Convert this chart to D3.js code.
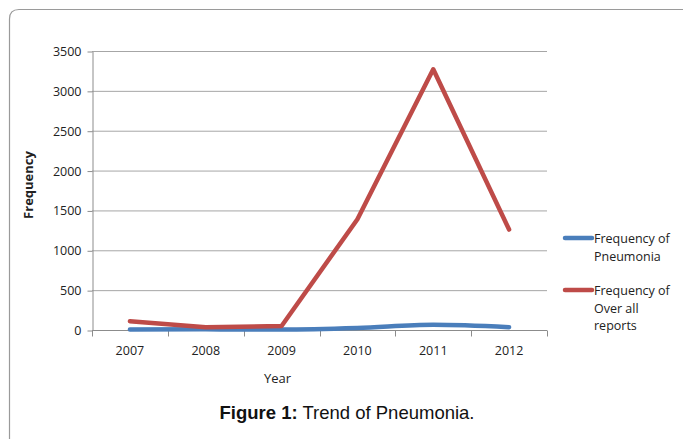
<!DOCTYPE html>
<html>
<head>
<meta charset="utf-8">
<script src="https://cdn.jsdelivr.net/npm/d3@7"></script>
<style>
  html, body { margin: 0; padding: 0; background: #fff; }
  svg { display: block; }
</style>
</head>
<body>
<svg id="chart" width="683" height="439"></svg>
<script>
// Yearly counts: pneumonia reports vs. all reports
const years = ["2007", "2008", "2009", "2010", "2011", "2012"];
const pneumonia = [5, 8, 6, 25, 65, 35];
const overall = [110, 35, 50, 1390, 3270, 1260];
const yTicks = [0, 500, 1000, 1500, 2000, 2500, 3000, 3500];
const seriesNames = ["Frequency of Pneumonia", "Frequency of Over all reports"];

const svg = d3.select("#chart");
const margin = { left: 92, right: 547, top: 51, bottom: 330 };
const axisFont = "'Open Sans', 'DejaVu Sans', sans-serif";

// outer frame with a rounded top-left corner
svg.append("path")
  .attr("d", "M9.5,439 L9.5,19 Q9.5,9.5 19,9.5 L683,9.5")
  .attr("fill", "none")
  .attr("stroke", "#9a9a9a")
  .attr("stroke-width", 1.2);

const x = d3.scaleBand().domain(years).range([margin.left, margin.right]);
const y = d3.scaleLinear().domain([0, 3500]).range([margin.bottom, margin.top]);

// horizontal gridlines
svg.append("g")
  .selectAll("line")
  .data(yTicks.filter(d => d > 0))
  .join("line")
  .attr("x1", margin.left).attr("x2", margin.right)
  .attr("y1", d => y(d) + 0.5).attr("y2", d => y(d) + 0.5)
  .attr("stroke", "#a6a6a6").attr("stroke-width", 1);

// y axis
const yAxis = svg.append("g")
  .attr("transform", `translate(${margin.left + 0.5},0.5)`)
  .call(d3.axisLeft(y).tickValues(yTicks).tickFormat(d3.format("d"))
    .tickSize(5).tickPadding(6).tickSizeOuter(0));
yAxis.select(".domain").attr("stroke", "#8c8c8c");
yAxis.selectAll(".tick line").attr("stroke", "#8c8c8c");
yAxis.selectAll("text")
  .attr("font-family", axisFont).attr("font-size", 12.5).attr("fill", "#222");

// x axis with ticks at the category boundaries
const xAxisG = svg.append("g").attr("transform", `translate(0,${margin.bottom + 0.5})`);
xAxisG.append("line")
  .attr("x1", margin.left).attr("x2", margin.right)
  .attr("stroke", "#8c8c8c");
const bounds = years.map(d => x(d)).concat([x.range()[1]]);
xAxisG.selectAll("line.tk")
  .data(bounds)
  .join("line")
  .attr("class", "tk")
  .attr("x1", d => Math.round(d) + 0.5).attr("x2", d => Math.round(d) + 0.5)
  .attr("y1", 0).attr("y2", 6)
  .attr("stroke", "#8c8c8c");
xAxisG.selectAll("text")
  .data(years)
  .join("text")
  .attr("x", d => x(d) + x.bandwidth() / 2)
  .attr("y", 24)
  .attr("text-anchor", "middle")
  .attr("font-family", axisFont).attr("font-size", 12.5).attr("fill", "#222")
  .text(d => d);

// axis titles
svg.append("text")
  .attr("x", (margin.left + margin.right) / 2 - 42)
  .attr("y", 383)
  .attr("text-anchor", "middle")
  .attr("font-family", axisFont).attr("font-size", 13).attr("fill", "#222")
  .text("Year");
svg.append("text")
  .attr("transform", "translate(33,185) rotate(-90)")
  .attr("text-anchor", "middle")
  .attr("font-family", axisFont).attr("font-size", 13).attr("font-weight", "bold").attr("fill", "#222")
  .text("Frequency");

// series lines
const cx = d => x(d) + x.bandwidth() / 2;
const lineSmooth = d3.line().x(d => cx(d.year)).y(d => y(d.v)).curve(d3.curveMonotoneX);
const lineStraight = d3.line().x(d => cx(d.year)).y(d => y(d.v));
const colors = ["#4a7ebb", "#be4b48"];

svg.append("path")
  .datum(years.map((yr, i) => ({ year: yr, v: pneumonia[i] })))
  .attr("d", lineSmooth)
  .attr("fill", "none").attr("stroke", colors[0])
  .attr("stroke-width", 4.5).attr("stroke-linecap", "round").attr("stroke-linejoin", "round");

svg.append("path")
  .datum(years.map((yr, i) => ({ year: yr, v: overall[i] })))
  .attr("d", lineStraight)
  .attr("fill", "none").attr("stroke", colors[1])
  .attr("stroke-width", 4.5).attr("stroke-linecap", "round").attr("stroke-linejoin", "round");

// legend
const legendItems = [
  { color: colors[0], y: 238, lines: ["Frequency of", "Pneumonia"] },
  { color: colors[1], y: 290, lines: ["Frequency of", "Over all", "reports"] }
];
legendItems.forEach(item => {
  svg.append("line")
    .attr("x1", 565).attr("x2", 592)
    .attr("y1", item.y).attr("y2", item.y)
    .attr("stroke", item.color).attr("stroke-width", 4.5).attr("stroke-linecap", "round");
  item.lines.forEach((t, i) => {
    svg.append("text")
      .attr("x", 594).attr("y", item.y + 5 + i * 17.5)
      .attr("font-family", axisFont).attr("font-size", 12.5).attr("fill", "#222")
      .text(t);
  });
});

// caption
const cap = svg.append("text")
  .attr("x", 347).attr("y", 419)
  .attr("text-anchor", "middle")
  .attr("font-family", "'Liberation Sans', Arial, sans-serif").attr("font-size", 18.5).attr("fill", "#111");
cap.append("tspan").attr("font-weight", "bold").text("Figure 1:");
cap.append("tspan").text(" Trend of Pneumonia.");
</script>
</body>
</html>
